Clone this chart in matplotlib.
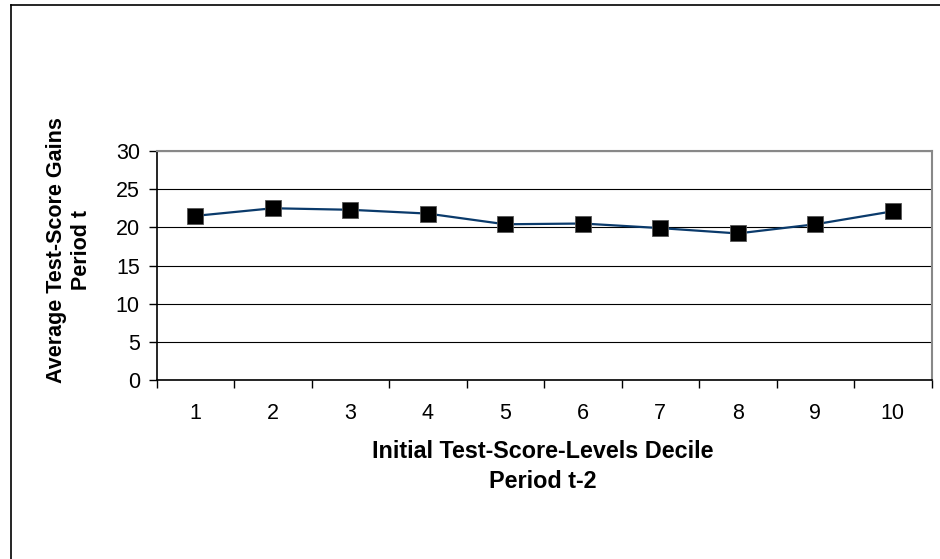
import matplotlib
matplotlib.use("Agg")
import matplotlib.pyplot as plt
from matplotlib.lines import Line2D

# Decile categories and average gains
deciles = [1, 2, 3, 4, 5, 6, 7, 8, 9, 10]
gains = [21.5, 22.5, 22.3, 21.8, 20.4, 20.5, 19.9, 19.2, 20.4, 22.1]
y_ticks = [0, 5, 10, 15, 20, 25, 30]

plt.rcParams['font.family'] = ['Liberation Sans', 'DejaVu Sans']

W, H = 940, 559
fig = plt.figure(figsize=(W / 100, H / 100), dpi=100)
fig.patch.set_facecolor('white')

# Outer frame (left and top edges)
fig.add_artist(Line2D([11 / W, 11 / W], [0, 1 - 4.5 / H], color='black', lw=1.2,
                      transform=fig.transFigure))
fig.add_artist(Line2D([11 / W, 1], [1 - 4.5 / H, 1 - 4.5 / H], color='black', lw=1.2,
                      transform=fig.transFigure))

left, right, top, bottom = 156.5, 931.5, 151, 380
ax = fig.add_axes([left / W, 1 - bottom / H, (right - left) / W, (bottom - top) / H])

ax.plot(deciles, gains, color='#0a3a6b', lw=1.6, zorder=3)
ax.plot(deciles, gains, ls='none', marker='s', ms=11.5, mfc='black',
        mec='#555555', mew=0.6, zorder=4)

ax.set_xlim(0.5, 10.5)
ax.set_ylim(0, 30)
ax.set_yticks(y_ticks)
ax.set_yticklabels([str(v) for v in y_ticks])
ax.yaxis.grid(True, color='black', lw=0.8)
ax.set_axisbelow(True)

# Category labels at centers, tick marks at boundaries
ax.set_xticks(deciles)
ax.set_xticklabels([str(d) for d in deciles])
ax.set_xticks([d + 0.5 for d in [0] + deciles], minor=True)
ax.tick_params(axis='x', which='major', length=0, pad=16.5, labelsize=15.5)
ax.tick_params(axis='x', which='minor', length=6, width=1, color='black', direction='out')
ax.tick_params(axis='y', length=6, width=1, color='black', pad=6, labelsize=15.5)

for s in ['left', 'bottom']:
    ax.spines[s].set_color('black')
    ax.spines[s].set_linewidth(1.2)
for s in ['top', 'right']:
    ax.spines[s].set_color('#888888')
    ax.spines[s].set_linewidth(1.5)

fig.text(543 / W, 1 - 452 / H, 'Initial Test-Score-Levels Decile', ha='center', va='center',
         fontsize=16.8, fontweight='bold')
fig.text(543 / W, 1 - 482 / H, 'Period t-2', ha='center', va='center',
         fontsize=16.8, fontweight='bold')
fig.text(69 / W, 1 - 250 / H, 'Average Test-Score Gains\nPeriod t', ha='center', va='center',
         rotation=90, multialignment='center', fontsize=15.5, fontweight='bold',
         linespacing=1.2)

fig.savefig('out.png', dpi=100, facecolor='white')
